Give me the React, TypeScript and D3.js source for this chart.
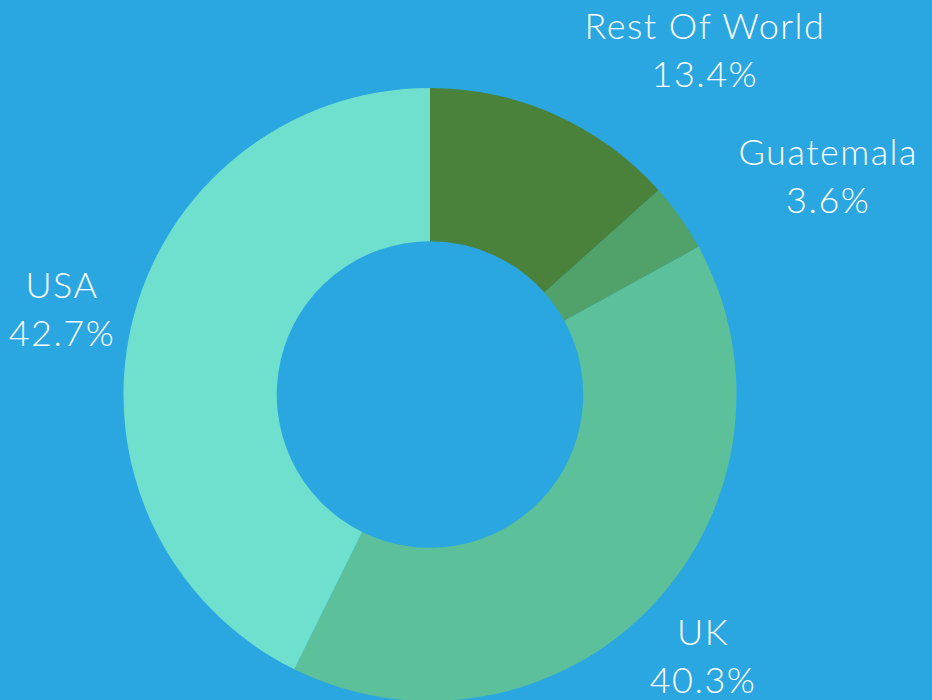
import React, { useEffect, useRef } from 'react';
import * as d3 from 'd3';

// ---- data ----
const categories = ['Rest Of World', 'Guatemala', 'UK', 'USA'];
const shares = [13.4, 3.6, 40.3, 42.7];
const sliceColors = ['#4a823c', '#50a16a', '#5cc09a', '#6fe0ce'];

// ---- layout / style ----
const W = 932;
const H = 700;
const BG = '#2aa7e1';
const CX = 430;
const CY = 394.5;
const R = 306.5;
const INNER_RATIO = 0.5;
const LABEL_RATIO = 1.233;
const FONT = 'Lato, "Open Sans", sans-serif';
const FS = 36;
const LETTER = 1.5;
const LINE = 48;

type Datum = { name: string; value: number; color: string };

export default function App() {
  const ref = useRef<SVGSVGElement>(null);

  useEffect(() => {
    const svg = d3.select(ref.current as SVGSVGElement);
    svg.selectAll('*').remove();
    svg.append('rect').attr('width', W).attr('height', H).attr('fill', BG);

    const data: Datum[] = categories.map((c, i) => ({ name: c, value: shares[i], color: sliceColors[i] }));
    const pie = d3.pie<Datum>().value((d) => d.value).sort(null);
    const arcs = pie(data);
    const arc = d3.arc<d3.PieArcDatum<Datum>>().innerRadius(R * INNER_RATIO).outerRadius(R);

    const g = svg.append('g').attr('transform', `translate(${CX},${CY})`);
    g.selectAll('path')
      .data(arcs)
      .join('path')
      .attr('d', arc as any)
      .attr('fill', (d) => d.data.color);

    const labelG = g.append('g');
    arcs.forEach((a) => {
      const mid = (a.startAngle + a.endAngle) / 2;
      const x = Math.sin(mid) * R * LABEL_RATIO;
      const y = -Math.cos(mid) * R * LABEL_RATIO;
      const b1 = y - 11;
      const t = labelG
        .append('text')
        .attr('fill', '#ffffff')
        .attr('font-family', FONT)
        .attr('font-weight', 300)
        .attr('font-size', FS)
        .attr('letter-spacing', LETTER)
        .attr('text-anchor', 'middle')
        .attr('y', b1);
      const s1 = t.append('tspan').attr('x', x).text(a.data.name);
      const s2 = t.append('tspan').attr('x', x).attr('dy', LINE).text(`${a.data.value.toFixed(1)}%`);
      const w = Math.max(
        (s1.node() as SVGTextContentElement).getComputedTextLength(),
        (s2.node() as SVGTextContentElement).getComputedTextLength()
      );
      // box of the centred label; if it runs into the ring, push it outward
      const x0 = x - w / 2;
      const x1 = x + w / 2;
      const y0 = b1 - FS * 0.75;
      const y1 = b1 + LINE + FS * 0.25;
      const nx = Math.max(x0, Math.min(0, x1));
      const ny = Math.max(y0, Math.min(0, y1));
      if (Math.hypot(nx, ny) < R) {
        const shift = x >= 0 ? w / 2 : -w / 2;
        s1.attr('x', x + shift);
        s2.attr('x', x + shift);
      }
    });
  }, []);

  return (
    <svg
      ref={ref}
      width={W}
      height={H}
      style={{ position: 'absolute', left: 0, top: 0, display: 'block' }}
    />
  );
}
